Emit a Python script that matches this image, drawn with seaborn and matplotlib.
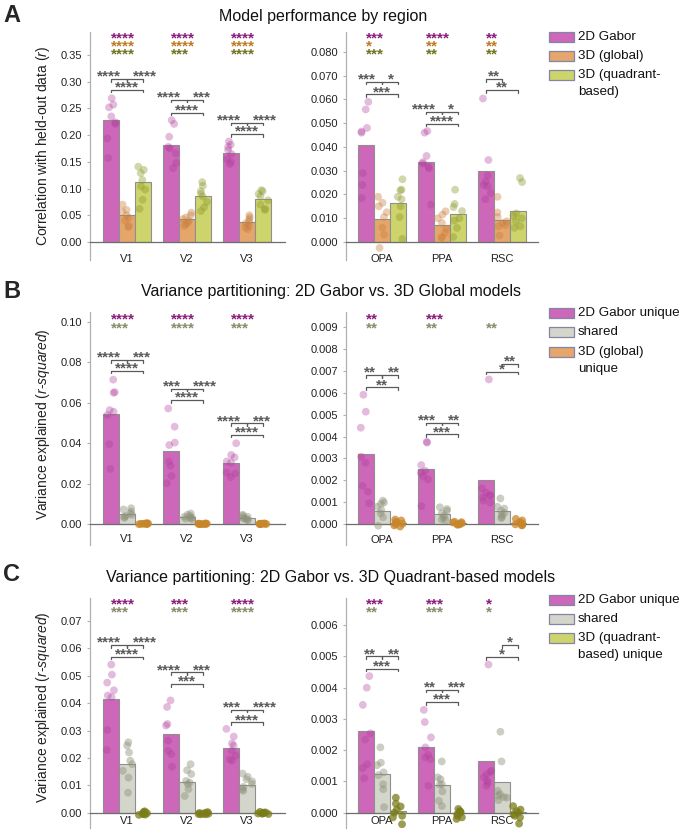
import numpy as np
import pandas as pd
import matplotlib
matplotlib.use("Agg")
import matplotlib.pyplot as plt
import matplotlib.transforms as mtrans
from matplotlib.patches import Rectangle
import seaborn as sns

sns.set_theme(style="white")
plt.rcParams['font.family'] = ['Liberation Sans', 'DejaVu Sans']
plt.rcParams['mathtext.fontset'] = 'custom'
plt.rcParams['mathtext.it'] = 'Liberation Sans:italic'
plt.rcParams['mathtext.rm'] = 'Liberation Sans'
np.random.seed(3)

# ---------------- data ----------------
early_regions = ["V1", "V2", "V3"]
scene_regions = ["OPA", "PPA", "RSC"]
models_a = ["2D Gabor", "3D (global)", "3D (quadrant-based)"]
models_b = ["2D Gabor unique", "shared", "3D (global) unique"]
models_c = ["2D Gabor unique", "shared", "3D (quadrant-based) unique"]

# Panel A bars (mean correlation)
a_early_gabor = [0.228, 0.182, 0.167]
a_early_global = [0.050, 0.043, 0.037]
a_early_quad = [0.112, 0.086, 0.080]
a_scene_gabor = [0.0408, 0.0338, 0.0300]
a_scene_global = [0.0097, 0.0073, 0.0094]
a_scene_quad = [0.0165, 0.0117, 0.0131]
# Panel A individual subjects
a_early_gabor_pts = [[0.269, 0.257, 0.252, 0.235, 0.224, 0.221, 0.194, 0.157],
                     [0.228, 0.221, 0.197, 0.178, 0.175, 0.166, 0.148, 0.138],
                     [0.188, 0.182, 0.178, 0.172, 0.165, 0.155, 0.150, 0.146]]
a_early_global_pts = [[0.070, 0.060, 0.057, 0.050, 0.045, 0.040, 0.030, 0.028],
                      [0.055, 0.050, 0.046, 0.043, 0.040, 0.036, 0.033, 0.030],
                      [0.050, 0.046, 0.042, 0.038, 0.035, 0.030, 0.027, 0.024]]
a_early_quad_pts = [[0.141, 0.135, 0.129, 0.116, 0.104, 0.098, 0.079, 0.062],
                    [0.112, 0.105, 0.095, 0.090, 0.085, 0.075, 0.065, 0.058],
                    [0.097, 0.095, 0.090, 0.085, 0.078, 0.070, 0.062, 0.060]]
a_scene_gabor_pts = [[0.0590, 0.0558, 0.0480, 0.0465, 0.0460, 0.0290, 0.0240, 0.0185],
                     [0.0467, 0.0460, 0.0362, 0.0336, 0.0330, 0.0317, 0.0310, 0.0157],
                     [0.0604, 0.0345, 0.0280, 0.0255, 0.0240, 0.0234, 0.0206, 0.0180]]
a_scene_global_pts = [[0.0190, 0.0165, 0.0150, 0.0125, 0.0105, 0.0060, 0.0030, -0.0025],
                      [0.0129, 0.0115, 0.0100, 0.0080, 0.0055, 0.0038, 0.0020, 0.0017],
                      [0.0190, 0.0124, 0.0105, 0.0087, 0.0080, 0.0070, 0.0066, 0.0027]]
a_scene_quad_pts = [[0.0264, 0.0220, 0.0217, 0.0190, 0.0180, 0.0150, 0.0105, 0.0013],
                    [0.0220, 0.0160, 0.0147, 0.0130, 0.0100, 0.0090, 0.0059, 0.0021],
                    [0.0269, 0.0252, 0.0120, 0.0110, 0.0100, 0.0087, 0.0066, 0.0059]]

# Panel B bars (variance partitioning, 2D Gabor vs 3D global)
b_early_gabor = [0.0543, 0.0362, 0.0304]
b_early_shared = [0.0050, 0.0035, 0.0030]
b_early_unique = [0.0002, 0.0001, 0.0001]
b_scene_gabor = [0.00320, 0.00250, 0.00202]
b_scene_shared = [0.00062, 0.00046, 0.00060]
b_scene_unique = [0.00007, 0.00005, 0.00006]
b_early_gabor_pts = [[0.0715, 0.0653, 0.0650, 0.0564, 0.0556, 0.0540, 0.0395, 0.0273],
                     [0.0572, 0.0482, 0.0403, 0.0391, 0.0309, 0.0288, 0.0238, 0.0202],
                     [0.0400, 0.0342, 0.0330, 0.0310, 0.0304, 0.0255, 0.0250, 0.0232]]
b_early_shared_pts = [[0.0078, 0.0072, 0.0062, 0.0052, 0.0045, 0.0040, 0.0035, 0.0030],
                      [0.0052, 0.0046, 0.0040, 0.0036, 0.0032, 0.0030, 0.0026, 0.0024],
                      [0.0046, 0.0041, 0.0036, 0.0031, 0.0027, 0.0025, 0.0021, 0.0019]]
b_early_unique_pts = [[0.0004, 0.0003, 0.0002, 0.0001, 0.0001, 0.0000, 0.0000, -0.0001],
                      [0.0003, 0.0002, 0.0002, 0.0001, 0.0000, 0.0000, -0.0001, -0.0001],
                      [0.0003, 0.0002, 0.0001, 0.0001, 0.0000, 0.0000, 0.0000, -0.0001]]
b_scene_gabor_pts = [[0.00590, 0.00513, 0.00440, 0.00308, 0.00280, 0.00175, 0.00149, 0.00096],
                     [0.00376, 0.00372, 0.00270, 0.00244, 0.00235, 0.00217, 0.00205, 0.00083],
                     [0.00660, 0.00164, 0.00144, 0.00134, 0.00130, 0.00123, 0.00108, 0.00099]]
b_scene_shared_pts = [[0.00108, 0.00099, 0.00093, 0.00080, 0.00065, 0.00050, 0.00032, -0.00006],
                      [0.00078, 0.00070, 0.00062, 0.00050, 0.00040, 0.00030, 0.00022, 0.00018],
                      [0.00118, 0.00080, 0.00072, 0.00062, 0.00052, 0.00042, 0.00033, 0.00028]]
b_scene_unique_pts = [[0.00022, 0.00018, 0.00012, 0.00008, 0.00003, 0.00000, -0.00005, -0.00010],
                      [0.00012, 0.00010, 0.00008, 0.00005, 0.00003, 0.00000, 0.00000, -0.00002],
                      [0.00025, 0.00018, 0.00010, 0.00005, 0.00003, 0.00000, -0.00003, -0.00005]]

# Panel C bars (variance partitioning, 2D Gabor vs 3D quadrant-based)
c_early_gabor = [0.0416, 0.0288, 0.0236]
c_early_shared = [0.0177, 0.0113, 0.0100]
c_early_unique = [-0.0003, -0.0003, -0.0002]
c_scene_gabor = [0.00260, 0.00209, 0.00166]
c_scene_shared = [0.00123, 0.00088, 0.00099]
c_scene_unique = [0.00004, -0.00002, 0.00001]
c_early_gabor_pts = [[0.0541, 0.0504, 0.0475, 0.0447, 0.0428, 0.0422, 0.0302, 0.0229],
                     [0.0410, 0.0386, 0.0324, 0.0318, 0.0263, 0.0226, 0.0214, 0.0168],
                     [0.0306, 0.0278, 0.0253, 0.0245, 0.0226, 0.0208, 0.0195, 0.0190]]
c_early_shared_pts = [[0.0257, 0.0245, 0.0220, 0.0190, 0.0177, 0.0153, 0.0128, 0.0073],
                      [0.0177, 0.0155, 0.0141, 0.0116, 0.0110, 0.0104, 0.0086, 0.0061],
                      [0.0143, 0.0131, 0.0122, 0.0114, 0.0105, 0.0094, 0.0085, 0.0080]]
c_early_unique_pts = [[0.0005, 0.0002, 0.0000, -0.0002, -0.0004, -0.0005, -0.0007, -0.0008],
                      [0.0002, 0.0000, -0.0001, -0.0003, -0.0004, -0.0005, -0.0006, -0.0006],
                      [0.0003, 0.0001, 0.0000, -0.0001, -0.0002, -0.0003, -0.0004, -0.0005]]
c_scene_gabor_pts = [[0.00437, 0.00400, 0.00345, 0.00254, 0.00234, 0.00155, 0.00143, 0.00110],
                     [0.00329, 0.00290, 0.00241, 0.00209, 0.00185, 0.00177, 0.00171, 0.00086],
                     [0.00474, 0.00134, 0.00130, 0.00123, 0.00113, 0.00102, 0.00095, 0.00086]]
c_scene_shared_pts = [[0.00209, 0.00160, 0.00152, 0.00129, 0.00120, 0.00091, 0.00075, 0.00018],
                      [0.00164, 0.00113, 0.00107, 0.00091, 0.00090, 0.00068, 0.00038, 0.00021],
                      [0.00259, 0.00164, 0.00070, 0.00060, 0.00054, 0.00050, 0.00048, 0.00040]]
c_scene_unique_pts = [[0.00048, 0.00029, 0.00020, 0.00010, 0.00000, -0.00010, -0.00015, -0.00037],
                      [0.00012, 0.00005, 0.00003, 0.00000, -0.00005, -0.00010, -0.00015, -0.00020],
                      [0.00021, 0.00010, 0.00005, 0.00000, -0.00005, -0.00010, -0.00015, -0.00035]]

# Significance vs zero (rows top to bottom, per region)
a_early_sig = [["****", "****", "****"], ["****", "****", "***"], ["****", "****", "****"]]
a_scene_sig = [["***", "*", "***"], ["****", "**", "**"], ["**", "**", "**"]]
b_early_sig = [["****", "***"], ["****", "****"], ["****", "***"]]
b_scene_sig = [["**", "**"], ["***", "**"], ["", "**"]]
c_early_sig = [["****", "***"], ["***", "***"], ["****", "****"]]
c_scene_sig = [["***", "**"], ["***", "***"], ["*", "*"]]
# Pairwise significance per region: (bar1 vs bar2, bar2 vs bar3, bar1 vs bar3)
a_early_pairs = [("****", "****", "****"), ("****", "***", "****"), ("****", "****", "****")]
a_scene_pairs = [("***", "*", "***"), ("****", "*", "****"), ("**", "", "**")]
b_early_pairs = [("****", "***", "****"), ("***", "****", "****"), ("****", "***", "****")]
b_scene_pairs = [("**", "**", "**"), ("***", "**", "***"), ("", "**", "*")]
c_early_pairs = [("****", "****", "****"), ("****", "***", "***"), ("***", "****", "****")]
c_scene_pairs = [("**", "**", "***"), ("**", "***", "***"), ("", "*", "*")]

# ---------------- layout / style ----------------
W, H = 682, 830
fig = plt.figure(figsize=(W / 100, H / 100), dpi=100)


def fx(px):
    return px / W


def fy(py):
    return 1 - py / H


pink, orange, lime, grey = '#CD67B9', '#E5A66B', '#CDD46C', '#D4D5CB'
pairs_color = '#5a5a5a'


def make_ax(x0, x1, y0, y1):
    return fig.add_axes([fx(x0), fy(y1), fx(x1) - fx(x0), (y1 - y0) / H])


def star(ax, x, y, s, color, ha, trans, dy=-4.2, size=11):
    t = mtrans.offset_copy(trans, fig=fig, x=0, y=dy, units='points')
    ax.text(x, y, s, transform=t, ha=ha, va='baseline', color=color,
            fontsize=size, fontweight='bold')


def panel(ax, regions, models, bars, pts, bar_pal, pt_pal, pt_alpha, xlim, ylim,
          yticks, fmt, sig, sig_colors, sig_y, pairs, bheights, ylabel, ylab_y, xpad):
    bdf = pd.DataFrame([(r, m, bars[j][i]) for j, m in enumerate(models)
                        for i, r in enumerate(regions)], columns=['region', 'model', 'value'])
    pdf = pd.DataFrame([(r, m, v) for j, m in enumerate(models)
                        for i, r in enumerate(regions) for v in pts[j][i]],
                       columns=['region', 'model', 'value'])
    sns.barplot(data=bdf, x='region', y='value', hue='model', order=regions,
                hue_order=models, palette=bar_pal, saturation=1, errorbar=None,
                edgecolor='#8f8f8f', linewidth=0.8, legend=False, ax=ax)
    n0 = len(ax.collections)
    sns.stripplot(data=pdf, x='region', y='value', hue='model', order=regions,
                  hue_order=models, palette=pt_pal, dodge=True, jitter=0.26,
                  size=5.6, linewidth=0, legend=False, ax=ax, zorder=3)
    rgb = [matplotlib.colors.to_rgb(c) for c in pt_pal]
    for coll in ax.collections[n0:]:
        fc = coll.get_facecolor()
        if len(fc) == 0:
            continue
        d = [np.sum((np.array(fc[0][:3]) - np.array(c)) ** 2) for c in rgb]
        coll.set_alpha(pt_alpha[int(np.argmin(d))])
    ax.set_xlim(*xlim)
    ax.set_ylim(*ylim)
    for s in ['top', 'right']:
        ax.spines[s].set_visible(False)
    ax.spines['bottom'].set_position(('data', 0))
    ax.spines['bottom'].set_color('#6e6e6e')
    ax.spines['bottom'].set_linewidth(0.9)
    ax.spines['left'].set_color('#b0b0b0')
    ax.spines['left'].set_linewidth(0.9)
    ax.set_yticks(yticks)
    ax.set_yticklabels([fmt.format(t) for t in yticks])
    ax.tick_params(axis='y', length=2.5, width=0.8, color='#b0b0b0', pad=3,
                   labelsize=8, labelcolor='#222222', left=True)
    ax.tick_params(axis='x', length=0, pad=xpad, labelsize=8, labelcolor='#222222')
    ax.set_xlabel('')
    if ylabel:
        ax.set_ylabel(ylabel, fontsize=10, color='#222222')
        ax.yaxis.set_label_coords(-0.195, ylab_y)
    else:
        ax.set_ylabel('')
    w = 0.8 / 3
    blend = mtrans.blended_transform_factory(ax.transData, ax.transAxes)
    leg = (ylim[1] - ylim[0]) * 2.5 / (ax.get_position().height * H)
    pdy = -1.2
    for i in range(len(regions)):
        xs = [i - w, i, i + w]
        for k, s in enumerate(sig[i]):
            if s:
                star(ax, xs[0], sig_y[k], s, sig_colors[k], 'left', blend)
        p01, p12, p02 = pairs[i]
        ytop, ybot = bheights[i]
        both = bool(p01) and bool(p12)
        if p01:
            ax.plot([xs[0], xs[0], xs[1], xs[1]], [ytop - leg, ytop, ytop, ytop - leg],
                    color=pairs_color, lw=0.9)
            if both:
                star(ax, (xs[0] + xs[1]) / 2 + 0.03, ytop, s=p01, color=pairs_color,
                     ha='right', trans=ax.transData, dy=pdy)
            else:
                star(ax, (xs[0] + xs[1]) / 2, ytop, s=p01, color=pairs_color,
                     ha='center', trans=ax.transData, dy=pdy)
        if p12:
            ax.plot([xs[1], xs[1], xs[2], xs[2]], [ytop - leg, ytop, ytop, ytop - leg],
                    color=pairs_color, lw=0.9)
            if both:
                star(ax, (xs[1] + xs[2]) / 2 - 0.03, ytop, s=p12, color=pairs_color,
                     ha='left', trans=ax.transData, dy=pdy)
            else:
                star(ax, (xs[1] + xs[2]) / 2, ytop, s=p12, color=pairs_color,
                     ha='center', trans=ax.transData, dy=pdy)
        if p02:
            ax.plot([xs[0], xs[0], xs[2], xs[2]], [ybot - leg, ybot, ybot, ybot - leg],
                    color=pairs_color, lw=0.9)
            star(ax, xs[1], ybot, s=p02, color=pairs_color, ha='center',
                 trans=ax.transData, dy=pdy)


def legend(y_list, labels, colors, extra):
    for y, lab, c in zip(y_list, labels, colors):
        fig.patches.append(Rectangle((fx(549), fy(y + 5)), fx(25), 10 / H, facecolor=c,
                                     edgecolor='#8585a3', lw=0.9,
                                     transform=fig.transFigure, figure=fig))
        fig.text(fx(578), fy(y), lab, fontsize=9.6, va='center', ha='left', color='#111111')
    fig.text(fx(578), fy(extra[0]), extra[1], fontsize=9.6, va='center', ha='left',
             color='#111111')


xl_left = (-0.62, 2.63)
xl_right = (-0.6, 2.6)
rows3 = [0.978, 0.943, 0.908]

# ---- Panel A ----
pal_a = [pink, orange, lime]
ptp_a = ['#B03C9C', '#C98040', '#8E9A2E']
pta_a = [0.35, 0.4, 0.4]
sigc_a = ['#8B1C7C', '#C07A22', '#6E7420']
ax = make_ax(90, 285, 32, 260)
panel(ax, early_regions, models_a, [a_early_gabor, a_early_global, a_early_quad],
      [a_early_gabor_pts, a_early_global_pts, a_early_quad_pts], pal_a, ptp_a, pta_a,
      xl_left, (-0.0337, 0.393), np.round(np.arange(0, 0.351, 0.05), 2), '{:.2f}',
      a_early_sig, sigc_a, rows3, a_early_pairs,
      [(0.305, 0.285), (0.266, 0.2416), (0.2234, 0.202)],
      r'Correlation with held-out data ($\it{r}$)', 0.5, 8.5)
ax = make_ax(346, 538, 32, 260)
panel(ax, scene_regions, models_a, [a_scene_gabor, a_scene_global, a_scene_quad],
      [a_scene_gabor_pts, a_scene_global_pts, a_scene_quad_pts], pal_a, ptp_a, pta_a,
      xl_right, (-0.0076, 0.0884), np.round(np.arange(0, 0.0801, 0.01), 3), '{:.3f}',
      a_scene_sig, sigc_a, rows3, a_scene_pairs,
      [(0.0674, 0.0621), (0.0548, 0.0497), (0.0685, 0.0639)], None, 0.5, 8.5)
fig.text(fx(323), fy(16), 'Model performance by region', fontsize=11.5, ha='center',
         va='center', color='#111111')
fig.text(fx(3), fy(16), 'A', fontsize=17, fontweight='bold', ha='left', va='center')
legend([37.5, 56, 75], ['2D Gabor', '3D (global)', '3D (quadrant-'], pal_a, (92, 'based)'))

# ---- Panel B ----
pal_b = [pink, grey, orange]
ptp_b = ['#B03C9C', '#8E927A', '#C8862A']
pta_b = [0.35, 0.45, 0.75]
sigc_b = ['#8B1C7C', '#8A8C6A']
ax = make_ax(90, 285, 312, 545)
panel(ax, early_regions, models_b, [b_early_gabor, b_early_shared, b_early_unique],
      [b_early_gabor_pts, b_early_shared_pts, b_early_unique_pts], pal_b, ptp_b, pta_b,
      xl_left, (-0.0104, 0.105), np.round(np.arange(0, 0.101, 0.02), 2), '{:.2f}',
      b_early_sig, sigc_b, [0.974, 0.936], b_early_pairs,
      [(0.0811, 0.0758), (0.0671, 0.0613), (0.0498, 0.0441)],
      r'Variance explained ($\it{r}$-$\it{squared}$)', 0.52, 7.5)
ax = make_ax(346, 538, 312, 545)
panel(ax, scene_regions, models_b, [b_scene_gabor, b_scene_shared, b_scene_unique],
      [b_scene_gabor_pts, b_scene_shared_pts, b_scene_unique_pts], pal_b, ptp_b, pta_b,
      xl_right, (-0.00094, 0.00967), np.round(np.arange(0, 0.00901, 0.001), 3), '{:.3f}',
      b_scene_sig, sigc_b, [0.974, 0.936], b_scene_pairs,
      [(0.0068, 0.00624), (0.00463, 0.0041), (0.00729, 0.00695)], None, 0.5, 7.5)
fig.text(fx(331), fy(291), 'Variance partitioning: 2D Gabor vs. 3D Global models',
         fontsize=11.5, ha='center', va='center', color='#111111')
fig.text(fx(3), fy(292), 'B', fontsize=17, fontweight='bold', ha='left', va='center')
legend([313, 332, 352], ['2D Gabor unique', 'shared', '3D (global)'], pal_b, (369, 'unique'))

# ---- Panel C ----
pal_c = [pink, grey, lime]
ptp_c = ['#B03C9C', '#8E927A', '#7A7C1A']
pta_c = [0.35, 0.45, 0.75]
ax = make_ax(90, 285, 598, 828)
panel(ax, early_regions, models_c, [c_early_gabor, c_early_shared, c_early_unique],
      [c_early_gabor_pts, c_early_shared_pts, c_early_unique_pts], pal_c, ptp_c, pta_c,
      xl_left, (-0.0056, 0.0784), np.round(np.arange(0, 0.0701, 0.01), 2), '{:.2f}',
      c_early_sig, sigc_b, [0.979, 0.943], c_early_pairs,
      [(0.0612, 0.0569), (0.0512, 0.0469), (0.0376, 0.033)],
      r'Variance explained ($\it{r}$-$\it{squared}$)', 0.526, 2.5)
ax = make_ax(346, 538, 598, 828)
panel(ax, scene_regions, models_c, [c_scene_gabor, c_scene_shared, c_scene_unique],
      [c_scene_gabor_pts, c_scene_shared_pts, c_scene_unique_pts], pal_c, ptp_c, pta_c,
      xl_right, (-0.00049, 0.00687), np.round(np.arange(0, 0.00601, 0.001), 3), '{:.3f}',
      c_scene_sig, sigc_b, [0.979, 0.943], c_scene_pairs,
      [(0.0050, 0.00461), (0.00393, 0.00354), (0.00536, 0.00498)], None, 0.5, 2.5)
fig.text(fx(331), fy(577), 'Variance partitioning: 2D Gabor vs. 3D Quadrant-based models',
         fontsize=11.5, ha='center', va='center', color='#111111')
fig.text(fx(3), fy(574), 'C', fontsize=17, fontweight='bold', ha='left', va='center')
legend([600, 619, 638], ['2D Gabor unique', 'shared', '3D (quadrant-'], pal_c,
       (655, 'based) unique'))

fig.savefig('out.png', dpi=100)
